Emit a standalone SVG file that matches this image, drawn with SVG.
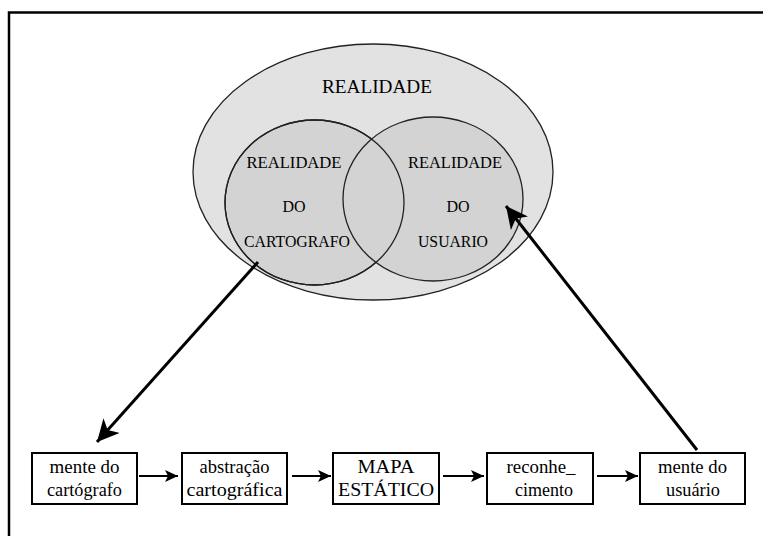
<svg xmlns="http://www.w3.org/2000/svg" width="763" height="536" viewBox="0 0 763 536">
<style>
text{font-family:"Liberation Serif",serif;fill:#000;text-anchor:middle}
.cap{font-size:16px}
.bx{font-size:18px}
.box{fill:#fff;stroke:#000;stroke-width:2}
.ell{stroke:#222;stroke-width:1.3}
</style>
<defs>
<marker id="big" markerUnits="userSpaceOnUse" markerWidth="24" markerHeight="22" refX="22" refY="11" orient="auto"><path d="M0,0 L22,11 L0,22 L6,11 Z" fill="#000"/></marker>
<marker id="sm" markerUnits="userSpaceOnUse" markerWidth="14" markerHeight="14" refX="13" refY="7" orient="auto"><path d="M0,1 L13,7 L0,13 L3,7 Z" fill="#000"/></marker>
</defs>
<rect width="763" height="536" fill="#fff"/>
<path d="M9,536 V12.5 H763" fill="none" stroke="#000" stroke-width="2.5"/>
<g id="realidade">
<ellipse class="ell" cx="373" cy="172" rx="180" ry="128" fill="#e2e2e2"/>
<text x="377" y="93" font-size="19" textLength="110" lengthAdjust="spacingAndGlyphs">REALIDADE</text>
</g>
<g id="cartografo">
<ellipse class="ell" cx="314.5" cy="202.5" rx="89.5" ry="82.5" fill="#d3d3d3"/>
</g>
<g id="usuario">
<ellipse class="ell" cx="433" cy="199" rx="90" ry="82" fill="#d3d3d3"/>
<ellipse cx="314.5" cy="202.5" rx="89.5" ry="82.5" fill="none" stroke="#222" stroke-width="1.3"/>
<text class="cap" x="455" y="168" textLength="94" lengthAdjust="spacingAndGlyphs">REALIDADE</text>
<text class="cap" x="458" y="212">DO</text>
<text class="cap" x="453" y="247" textLength="70" lengthAdjust="spacingAndGlyphs">USUARIO</text>
</g>
<g id="cartografo-labels">
<text class="cap" x="294" y="168" textLength="95" lengthAdjust="spacingAndGlyphs">REALIDADE</text>
<text class="cap" x="294" y="212">DO</text>
<text class="cap" x="297" y="247" textLength="106" lengthAdjust="spacingAndGlyphs">CARTOGRAFO</text>
</g>
<g id="b1"><rect class="box" x="32" y="453" width="105" height="51"/><text class="bx" x="84.5" y="473" textLength="70" lengthAdjust="spacingAndGlyphs">mente do</text><text class="bx" x="84.5" y="496" textLength="75" lengthAdjust="spacingAndGlyphs">cartógrafo</text></g>
<g id="b2"><rect class="box" x="182" y="453" width="105" height="51"/><text class="bx" x="234.5" y="473" textLength="70" lengthAdjust="spacingAndGlyphs">abstração</text><text class="bx" x="234.5" y="496" textLength="96" lengthAdjust="spacingAndGlyphs">cartográfica</text></g>
<g id="b3"><rect class="box" x="333" y="453" width="106" height="51"/><text class="bx" x="386" y="473" textLength="57" lengthAdjust="spacingAndGlyphs">MAPA</text><text class="bx" x="386" y="496" textLength="96" lengthAdjust="spacingAndGlyphs">ESTÁTICO</text></g>
<g id="b4"><rect class="box" x="487" y="453" width="106" height="51"/><text class="bx" x="541" y="473" textLength="69" lengthAdjust="spacingAndGlyphs">reconhe_</text><text class="bx" x="544" y="496" textLength="58" lengthAdjust="spacingAndGlyphs">cimento</text></g>
<g id="b5"><rect class="box" x="640" y="453" width="105" height="51"/><text class="bx" x="692.5" y="473" textLength="69" lengthAdjust="spacingAndGlyphs">mente do</text><text class="bx" x="693" y="496" textLength="54" lengthAdjust="spacingAndGlyphs">usuário</text></g>
<g id="connectors" stroke="#000" fill="none">
<line x1="258" y1="262" x2="97" y2="442" stroke-width="3" marker-end="url(#big)"/>
<line x1="697" y1="450" x2="506" y2="206" stroke-width="3" marker-end="url(#big)"/>
<line x1="139" y1="476" x2="178" y2="476" stroke-width="2" marker-end="url(#sm)"/>
<line x1="292" y1="476" x2="331" y2="476" stroke-width="2" marker-end="url(#sm)"/>
<line x1="443" y1="476" x2="484" y2="476" stroke-width="2" marker-end="url(#sm)"/>
<line x1="597" y1="476" x2="638" y2="476" stroke-width="2" marker-end="url(#sm)"/>
</g>
</svg>
